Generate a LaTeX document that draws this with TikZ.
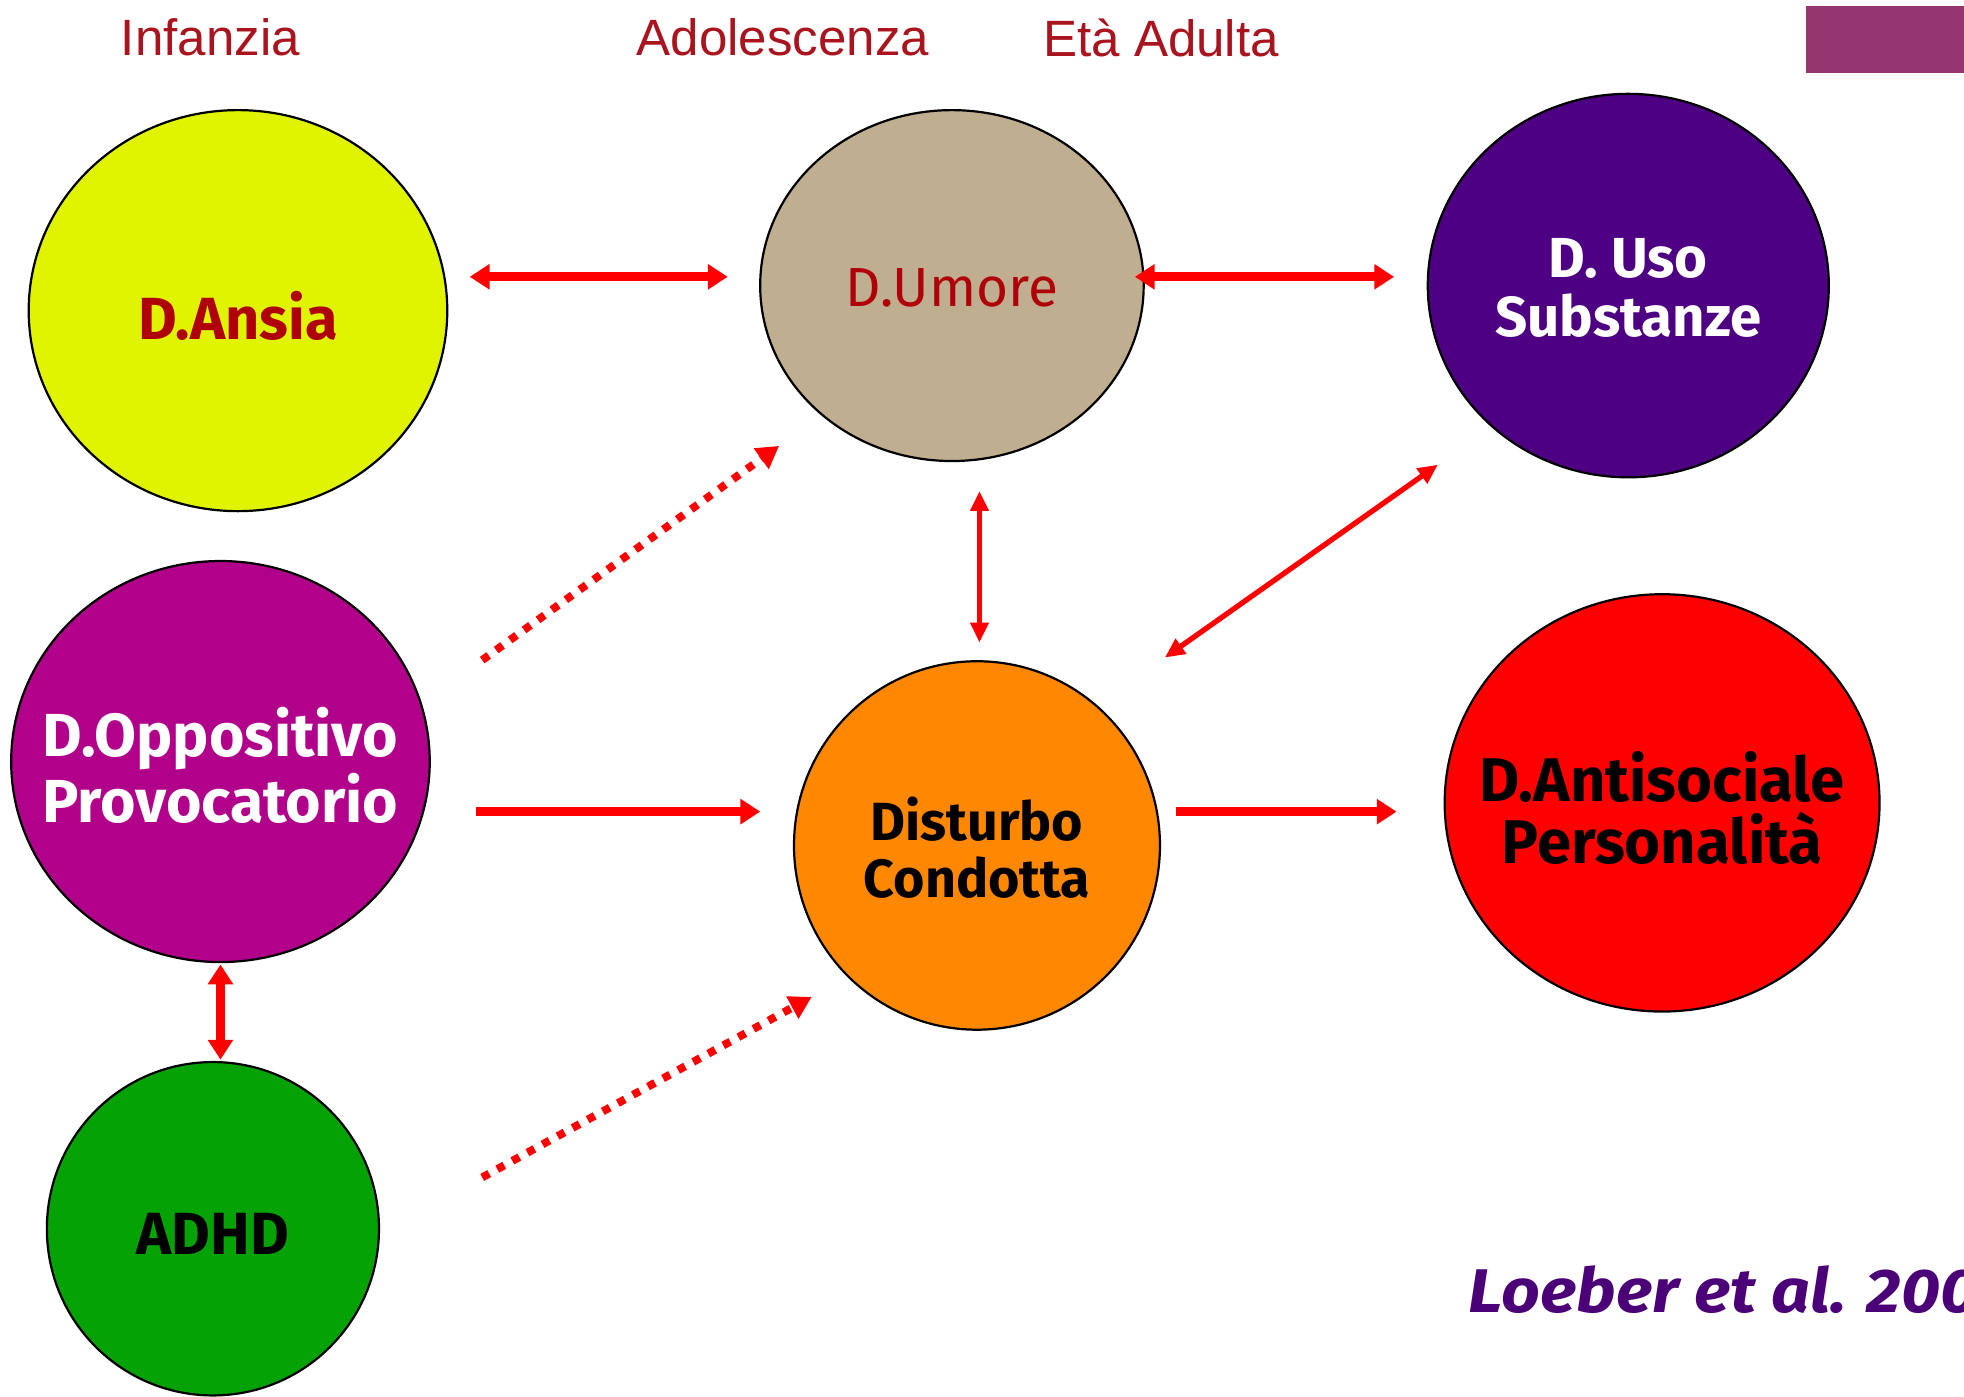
\documentclass[tikz,border=0pt]{standalone}
\usepackage{fontspec}
\setmainfont{Liberation Sans}
\newfontfamily\comic{Fira Sans}
\usetikzlibrary{shapes.geometric,arrows.meta}
\definecolor{hdrred}{RGB}{170,20,30}
\definecolor{txtred}{RGB}{175,0,10}
\definecolor{barpurple}{RGB}{150,54,112}
\definecolor{cyellow}{RGB}{224,244,0}
\definecolor{ctan}{RGB}{191,174,143}
\definecolor{cindigo}{RGB}{78,0,130}
\definecolor{cmagenta}{RGB}{177,0,138}
\definecolor{corange}{RGB}{255,136,0}
\definecolor{cred}{RGB}{255,0,0}
\definecolor{cgreen}{RGB}{4,162,4}
\definecolor{cite}{RGB}{75,0,120}
\tikzset{
  circ/.style={ellipse, draw=black, line width=0.5pt, inner sep=0pt},
  lbl/.style={align=center, inner sep=0pt},
  hdr/.style={text=hdrred, font=\fontsize{11.6}{13}\selectfont},
  thickarr/.style={draw=red, line width=2pt, -{Triangle[length=4.5pt,width=5.5pt]}},
  thickdbl/.style={draw=red, line width=2pt, {Triangle[length=4.5pt,width=5.5pt]}-{Triangle[length=4.5pt,width=5.5pt]}},
  thindbl/.style={draw=red, line width=1.2pt, {Triangle[length=4.5pt,width=4pt]}-{Triangle[length=4.5pt,width=4pt]}},
  dotarr/.style={draw=red, line width=1.8pt, dash pattern=on 1.8pt off 2.1pt, -{Triangle[length=5pt,width=5.5pt]}},
}
\begin{document}
\begin{tikzpicture}[x=0.01cm,y=-0.01cm]
\clip (0,0) rectangle (1568,1115);
\fill[white] (0,0) rectangle (1568,1115);
% header
\node[hdr] (h1) at (168,30) {Infanzia};
\node[hdr] (h2) at (625,30) {Adolescenza};
\node[hdr] (h3) at (927,30) {Età Adulta};
\fill[barpurple] (1442,5) rectangle (1568,58);
% circles
\node[circ, fill=cyellow, minimum width=3.34cm, minimum height=3.20cm] (ansia) at (190,248) {};
\node[lbl, text=txtred, font=\comic\bfseries\fontsize{13.5}{15}\selectfont] (ansiat) at (190,252) {D.Ansia};
\node[circ, fill=ctan, minimum width=3.06cm, minimum height=2.80cm] (umore) at (760,228) {};
\node[lbl, text=txtred, font=\comic\fontsize{12.5}{15}\selectfont] (umoret) at (760,230) {D.Umore};
\node[circ, fill=cindigo, minimum width=3.20cm, minimum height=3.06cm] (uso) at (1300,228) {};
\node[lbl, text=white, font=\comic\bfseries\fontsize{12.8}{13.5}\selectfont] (usot) at (1300,230) {D. Uso\\Substanze};
\node[circ, fill=cmagenta, minimum width=3.34cm, minimum height=3.20cm] (opp) at (176,608) {};
\node[lbl, text=white, font=\comic\bfseries\fontsize{13.8}{15}\selectfont] (oppt) at (176,611) {D.Oppositivo\\Provocatorio};
\node[circ, fill=corange, minimum width=2.92cm, minimum height=2.94cm] (cond) at (780,675) {};
\node[lbl, text=black, font=\comic\bfseries\fontsize{12.2}{13}\selectfont] (condt) at (780,677) {Disturbo\\Condotta};
\node[circ, fill=cred, minimum width=3.47cm, minimum height=3.33cm] (antis) at (1327,641) {};
\node[lbl, text=black, font=\comic\bfseries\fontsize{14}{14.2}\selectfont] (antist) at (1327,645) {D.Antisociale\\Personalità};
\node[circ, fill=cgreen, minimum width=2.65cm, minimum height=2.66cm] (adhd) at (170,981) {};
\node[lbl, text=black, font=\comic\bfseries\fontsize{13.5}{15}\selectfont] (adhdt) at (170,985) {ADHD};
% connector end points
\coordinate (a1) at (375,221); \coordinate (a2) at (581,221);
\coordinate (b1) at (906,221); \coordinate (b2) at (1113,221);
\coordinate (c1) at (385,527); \coordinate (c2) at (622,356);
\coordinate (d1) at (782,392); \coordinate (d2) at (782,513);
\coordinate (e1) at (1148,371); \coordinate (e2) at (930,525);
\coordinate (f1) at (380,648); \coordinate (f2) at (607,648);
\coordinate (g1) at (939,648); \coordinate (g2) at (1115,648);
\coordinate (k1) at (176,770); \coordinate (k2) at (176,846);
\coordinate (m1) at (385,940); \coordinate (m2) at (648,796);
\draw[thickdbl] (a1) -- (a2);
\draw[thickdbl] (b1) -- (b2);
\draw[dotarr] (c1) -- (c2);
\draw[thindbl] (d1) -- (d2);
\draw[thindbl] (e1) -- (e2);
\draw[thickarr] (f1) -- (f2);
\draw[thickarr] (g1) -- (g2);
\draw[thickdbl] (k1) -- (k2);
\draw[dotarr] (m1) -- (m2);
% citation
\node[anchor=base west, inner sep=0pt, text=cite, font=\comic\bfseries\itshape\fontsize{14}{15}\selectfont] (cit) at (1172,1048) {\scalebox{1.1}[1]{Loeber et al. 200}};
\end{tikzpicture}
\end{document}
